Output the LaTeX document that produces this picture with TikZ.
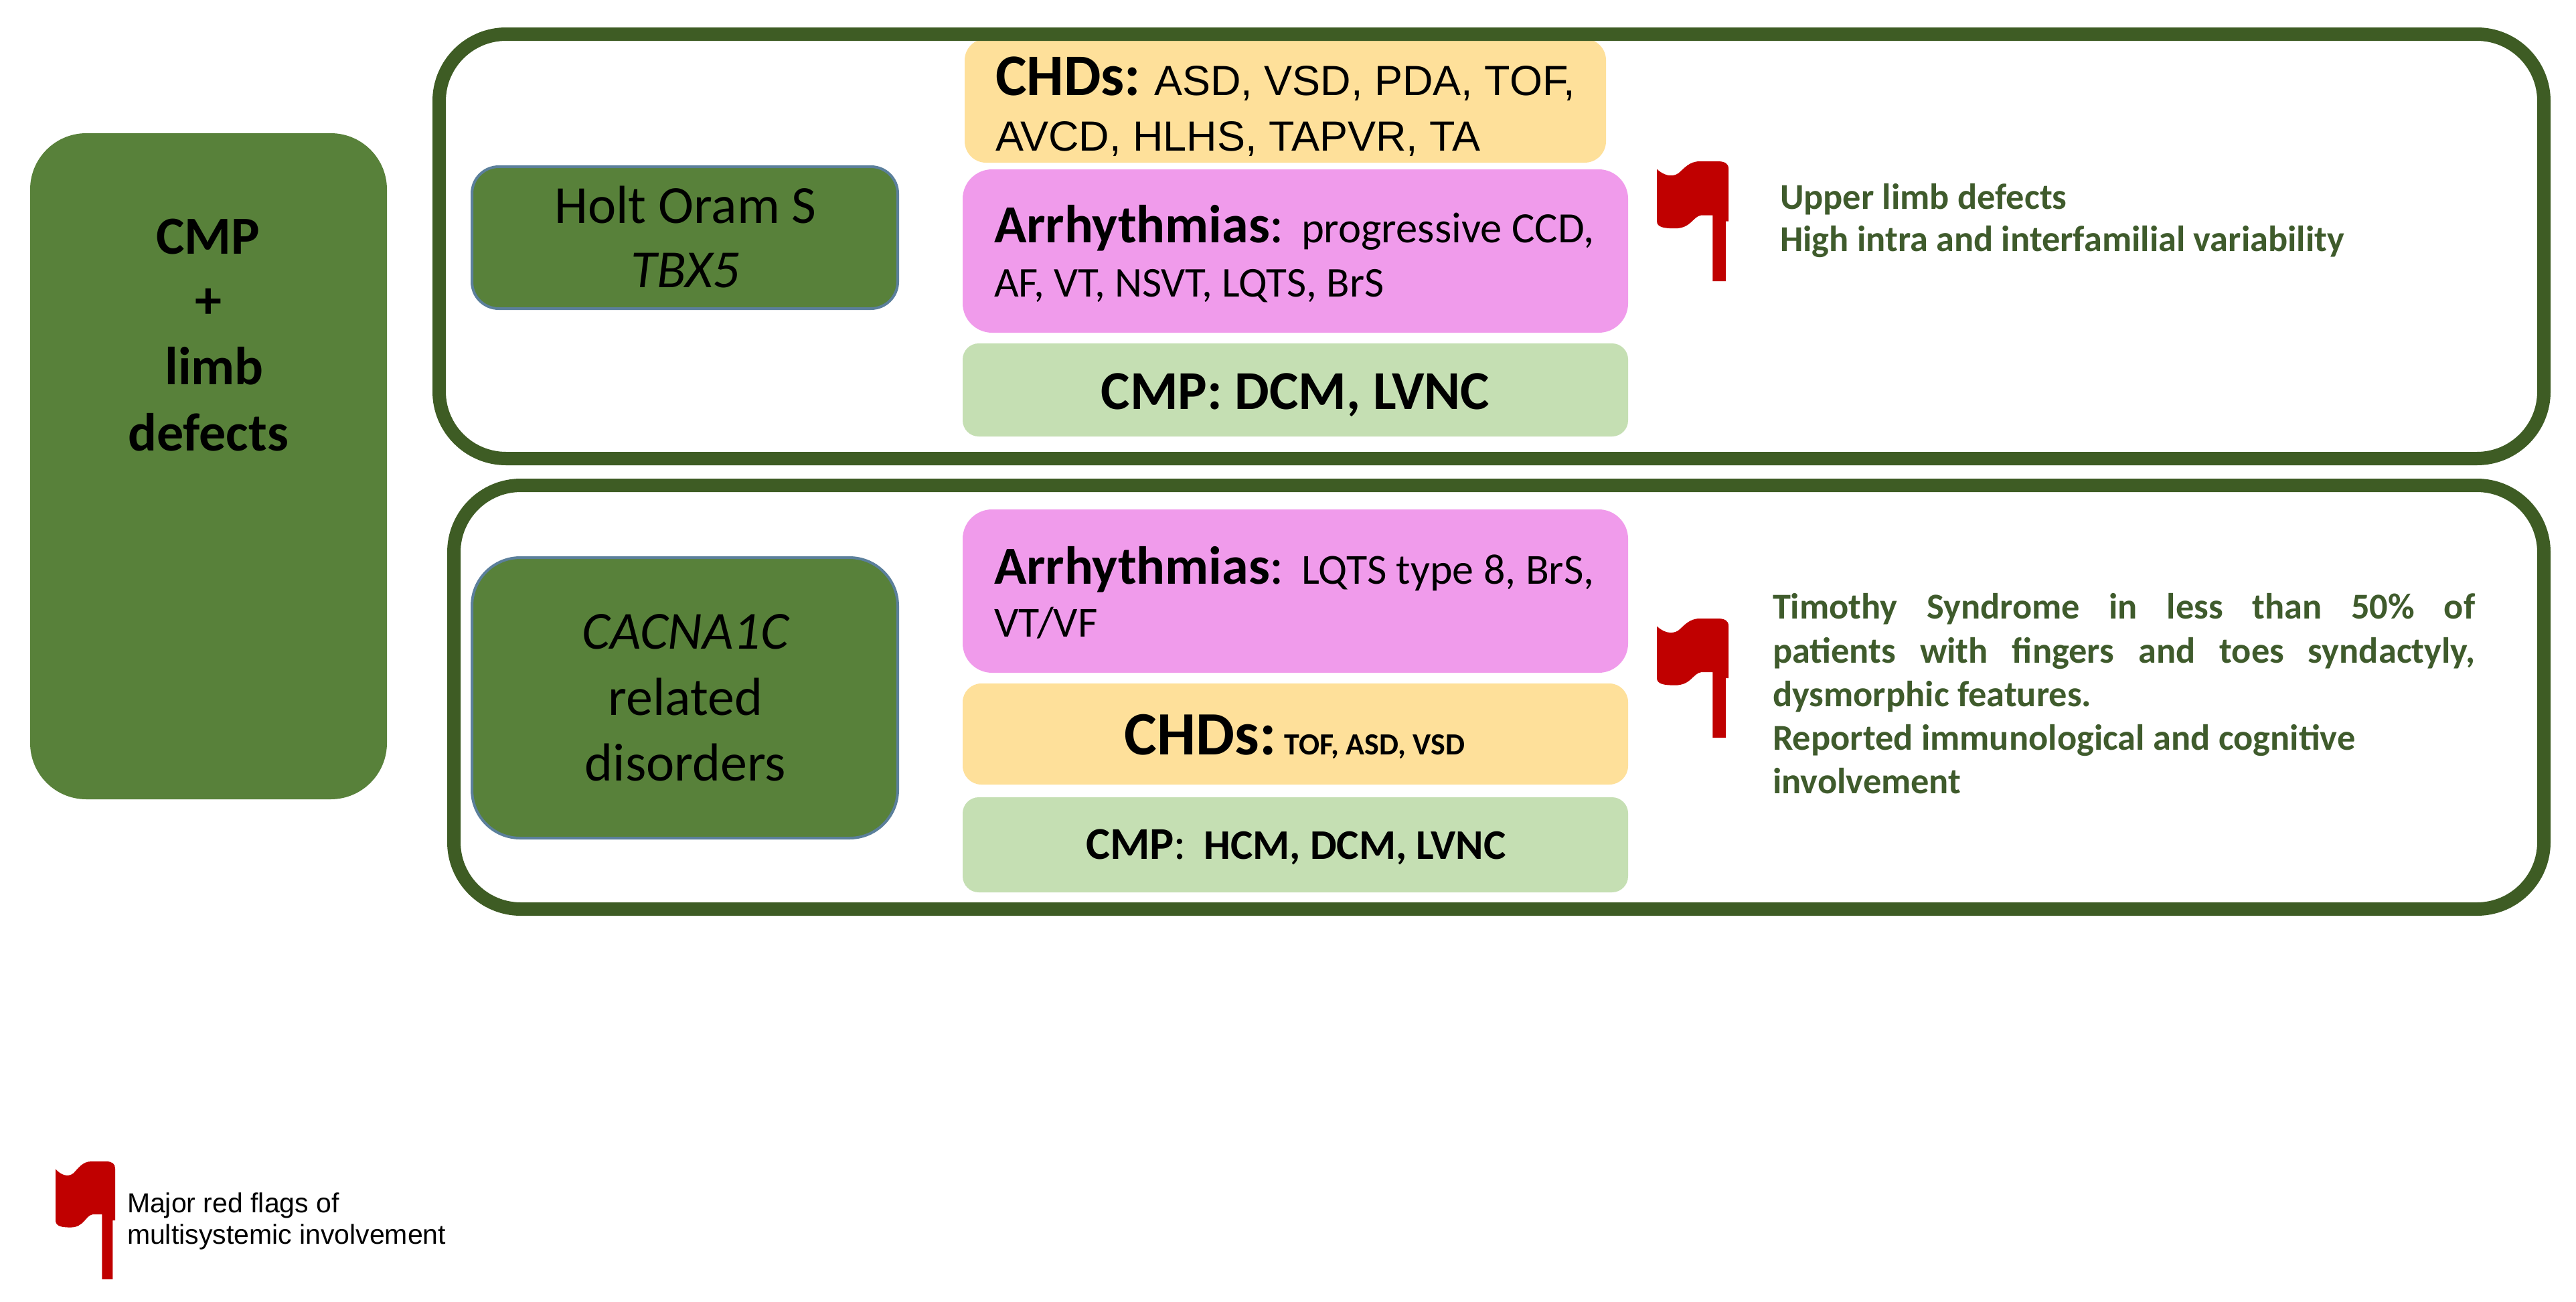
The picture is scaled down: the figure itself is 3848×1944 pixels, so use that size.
\documentclass[tikz,border=0pt]{standalone}
\usepackage{fontspec}
\setmainfont{Carlito}
\newfontfamily\arialf{Liberation Sans}
\definecolor{framegreen}{HTML}{3E5C24}
\definecolor{leafgreen}{HTML}{58813A}
\definecolor{edgeblue}{HTML}{5B7F9B}
\definecolor{chdyellow}{HTML}{FEE09A}
\definecolor{arrpink}{HTML}{F09BEB}
\definecolor{cmpgreen}{HTML}{C5DFB3}
\definecolor{flagred}{HTML}{C00000}
\definecolor{notegreen}{HTML}{3F5B2C}
\newcommand{\fs}[1]{\fontsize{#1}{#1}\selectfont}
\newcommand{\redflagat}[4]{%
  \begin{scope}[shift={(#1,#2)},xscale=#3,yscale=#4]
    \fill[flagred] (0,.065) .. controls (.08,.11) and (.2,.14) .. (.3,.1)
      .. controls (.38,.06) and (.45,0) .. (.6,0) -- (.85,0)
      .. controls (.95,0) and (1,.02) .. (1,.06) -- (1,.5) -- (.96,.5) -- (.96,1) -- (.78,1) -- (.78,.45) -- (.62,.45)
      .. controls (.5,.46) and (.48,.56) .. (.25,.56)
      .. controls (.1,.56) and (0,.55) .. (0,.5) -- cycle;
  \end{scope}}
\tikzset{
  x=0.5pt,y=-0.5pt,
  framebox/.style={draw=framegreen,line width=10pt,rounded corners=50pt},
  groupbox/.style={fill=leafgreen,rounded corners=42pt},
  genebox/.style={fill=leafgreen,draw=edgeblue,line width=2pt},
  chdbox/.style={fill=chdyellow},
  arrbox/.style={fill=arrpink,rounded corners=22pt},
  cmpbox/.style={fill=cmpgreen,rounded corners=12pt},
  label/.style={inner sep=0pt,outer sep=0pt,anchor=base west},
  clabel/.style={inner sep=0pt,outer sep=0pt,anchor=base},
  note/.style={inner sep=0pt,outer sep=0pt,anchor=base west,text=notegreen,font=\bfseries\fs{27.2}}
}
\begin{document}
\begin{tikzpicture}
\useasboundingbox (0,0) rectangle (3848,1944);
\fill[white] (0,0) rectangle (3848,1944);
% left group
\path[groupbox] (45,199) rectangle (578,1194);
\node[clabel,font=\bfseries\fs{40}] (cmpa) at (311,379) {CMP};
\node[clabel,font=\bfseries\fs{40}] (plus) at (311,475) {+};
\node[clabel,font=\bfseries\fs{40}] (limb) at (320,574) {limb};
\node[clabel,font=\bfseries\fs{40}] (defects) at (311,673) {defects};
% coloured boxes, upper
\path[chdbox,rounded corners=16pt] (1441,58) rectangle (2399,243);
\path[arrbox] (1438,253) rectangle (2432,497);
\path[cmpbox] (1438,513) rectangle (2432,652);
% frames
\draw[framebox] (656,51) rectangle (3800,685);
\draw[framebox] (678,725) rectangle (3800,1358);
% gene boxes
\path[genebox,rounded corners=20pt] (705,249) rectangle (1341,461);
\node[clabel,font=\fs{40}] (holt) at (1024,333) {Holt Oram S};
\node[clabel,font=\itshape\fs{40}] (tbx) at (1024,429) {TBX5};
\path[genebox,rounded corners=36pt] (705,833) rectangle (1341,1252);
\node[clabel,font=\itshape\fs{40}] (cacna) at (1024,969) {CACNA1C};
\node[clabel,font=\fs{40}] (related) at (1024,1068) {related};
\node[clabel,font=\fs{40}] (disorders) at (1024,1166) {disorders};
% upper text
\node[label] (chda) at (1487,142) {\bfseries\fs{44}CHDs:};
\node[label] (chdb) at (1724,142) {\arialf\fs{31.5}ASD, VSD, PDA, TOF,};
\node[label] (chdc) at (1487,225) {\arialf\fs{31.5}AVCD, HLHS, TAPVR, TA};
\node[label] (arra) at (1485,362) {{\bfseries\fs{40}Arrhythmias}{\fs{40}:}};
\node[label] (arra2) at (1944,362) {\fs{32.3}progressive CCD,};
\node[label] (arrb) at (1485,443) {\fs{31.7}AF, VT, NSVT, LQTS, BrS};
\node[clabel,font=\bfseries\fs{41}] (cmpb) at (1935,611) {CMP: DCM, LVNC};
% lower colored boxes
\path[arrbox] (1438,761) rectangle (2432,1005);
\path[chdbox,rounded corners=14pt] (1438,1021) rectangle (2432,1172);
\path[cmpbox] (1438,1191) rectangle (2432,1333);
\node[label] (arrc) at (1485,872) {{\bfseries\fs{40}Arrhythmias}{\fs{40}:}};
\node[label] (arrc2) at (1944,872) {\fs{32}LQTS type 8, BrS,};
\node[label] (arrd) at (1485,951) {\fs{32}VT/VF};
\node[clabel] (chdd) at (1934,1127) {{\bfseries\fs{46}CHDs:}\hspace{3pt} {\bfseries\fs{23}TOF, ASD, VSD}};
\node[clabel] (cmpc) at (1936,1283) {{\bfseries\fs{34}CMP}{\fs{34}:}\hspace{11pt} {\bfseries\fs{31.5}HCM, DCM, LVNC}};
% flags
\redflagat{2475}{241}{107}{179}
\redflagat{2475}{924}{107}{178}
\redflagat{83}{1735}{89}{176}
% notes
\node[note] (upper) at (2659,312) {Upper limb defects};
\node[note] (high) at (2659,375) {High intra and interfamilial variability};
\node[note] (tima) at (2648,924) {\makebox[524.5pt][s]{Timothy Syndrome in less than 50\% of}};
\node[note] (timb) at (2648,990) {\makebox[524.5pt][s]{patients with fingers and toes syndactyly,}};
\node[note] (timc) at (2648,1055) {dysmorphic features.};
\node[note] (timd) at (2648,1120) {Reported immunological and cognitive};
\node[note] (time) at (2648,1185) {involvement};
% legend
\node[label,font=\arialf\fs{20.5}] (lega) at (190,1811) {Major red flags of};
\node[label,font=\arialf\fs{20.5}] (legb) at (190,1858) {multisystemic involvement};
\end{tikzpicture}
\end{document}
